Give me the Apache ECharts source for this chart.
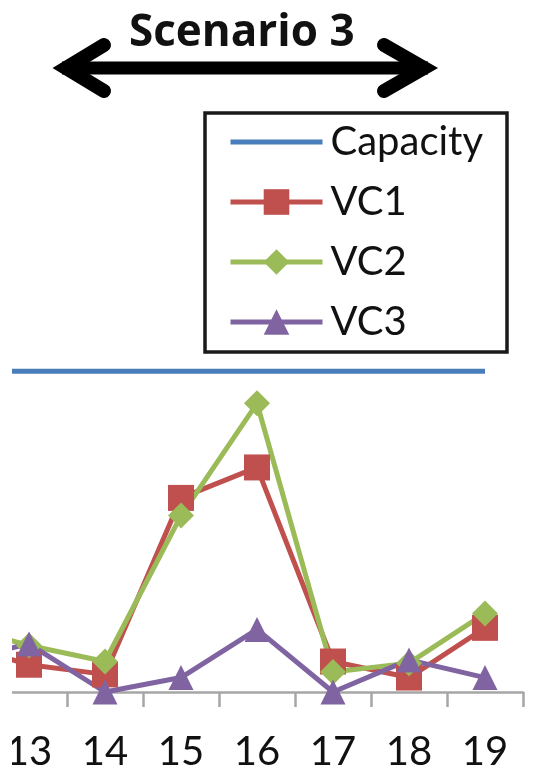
<!DOCTYPE html>
<html>
<head>
<meta charset="utf-8">
<script src="https://cdn.jsdelivr.net/npm/echarts@6/dist/echarts.min.js"></script>
<style>
  html, body { margin: 0; padding: 0; background: #fff; }
  #chart { width: 533px; height: 771px; }
</style>
</head>
<body>
<div id="chart"></div>
<script>
// Categories (12 is only partially visible at the left crop edge)
var categories = ['12', '13', '14', '15', '16', '17', '18', '19'];
var capacity = [20, 20, 20, 20, 20, 20, 20, 20];
var vc1 = [3.1, 1.7, 1.1, 12.1, 14.0, 1.9, 0.9, 4.0];
var vc2 = [4.2, 2.9, 1.9, 11.0, 18.0, 1.25, 1.8, 4.9];
var vc3 = [1.9, 3.0, 0, 0.9, 3.9, 0, 2.0, 0.9];
var seriesNames = ['Capacity', 'VC1', 'VC2', 'VC3'];
var titleText = 'Scenario 3';

var FONT = 'Lato';
var chart = echarts.init(document.getElementById('chart'), null, { renderer: 'canvas' });

function lineSeries(name, data, color, symbol, size, width) {
  return {
    name: name,
    type: 'line',
    data: data,
    symbol: symbol,
    symbolSize: size,
    showAllSymbol: true,
    clip: false,
    animation: false,
    lineStyle: { color: color, width: width },
    itemStyle: { color: color },
    emphasis: { disabled: true }
  };
}

var option = {
  animation: false,
  backgroundColor: '#ffffff',
  title: {
    text: titleText,
    left: 129,
    top: 11,
    padding: 0,
    textStyle: { fontFamily: 'Open Sans', fontWeight: 'bold', fontSize: 44, color: '#111' }
  },
  legend: {
    orient: 'vertical',
    left: 228,
    top: 122,
    padding: 0,
    itemWidth: 92,
    itemHeight: 32,
    itemGap: 20,
    selectedMode: false,
    lineStyle: { width: 5 },
    textStyle: { fontFamily: FONT, fontSize: 40, color: '#111', padding: [0, 0, 0, 3] },
    data: [
      { name: 'Capacity', itemStyle: { color: 'rgba(0,0,0,0)', borderWidth: 0, borderColor: 'rgba(0,0,0,0)' } },
      { name: 'VC1' },
      { name: 'VC2' },
      { name: 'VC3' }
    ]
  },
  grid: { left: -85, right: 10, top: 291, bottom: 79, containLabel: false, outerBoundsMode: 'none' },
  xAxis: {
    type: 'category',
    data: categories,
    boundaryGap: true,
    axisLine: { show: true, lineStyle: { color: '#a6a6a6', width: 2.5 } },
    axisTick: { show: true, length: 15, lineStyle: { color: '#a6a6a6', width: 2.5 } },
    axisLabel: { fontFamily: FONT, fontSize: 40, color: '#111', margin: 40 },
    splitLine: { show: false }
  },
  yAxis: {
    type: 'value',
    min: 0,
    max: 25,
    show: false,
    splitLine: { show: false }
  },
  series: [
    lineSeries(seriesNames[0], capacity, '#4a7ebb', 'none', 0, 5),
    lineSeries(seriesNames[1], vc1, '#c0504d', 'rect', 26, 5),
    lineSeries(seriesNames[2], vc2, '#9bbb59', 'diamond', 26, 5),
    lineSeries(seriesNames[3], vc3, '#8064a2', 'triangle', 25, 5)
  ],
  graphic: [
    // double-headed arrow under the title
    { type: 'polyline', z: 50, shape: { points: [[62, 68], [428, 68]] },
      style: { stroke: '#000', lineWidth: 13, fill: null, lineCap: 'butt' } },
    { type: 'polyline', z: 50, shape: { points: [[104, 45], [66, 68], [104, 91]] },
      style: { stroke: '#000', lineWidth: 14, fill: null, lineCap: 'round', lineJoin: 'miter' } },
    { type: 'polyline', z: 50, shape: { points: [[384, 45], [424, 68], [384, 91]] },
      style: { stroke: '#000', lineWidth: 14, fill: null, lineCap: 'round', lineJoin: 'miter' } },
    // legend frame
    { type: 'rect', z: 50, shape: { x: 205, y: 113, width: 302, height: 239 },
      style: { stroke: '#1a1a1a', lineWidth: 3.5, fill: null } },
    // left crop edge of the original picture
    { type: 'rect', z: 1000, shape: { x: 0, y: 0, width: 12, height: 771 },
      style: { fill: '#ffffff' } }
  ]
};
chart.setOption(option);
</script>
</body>
</html>
